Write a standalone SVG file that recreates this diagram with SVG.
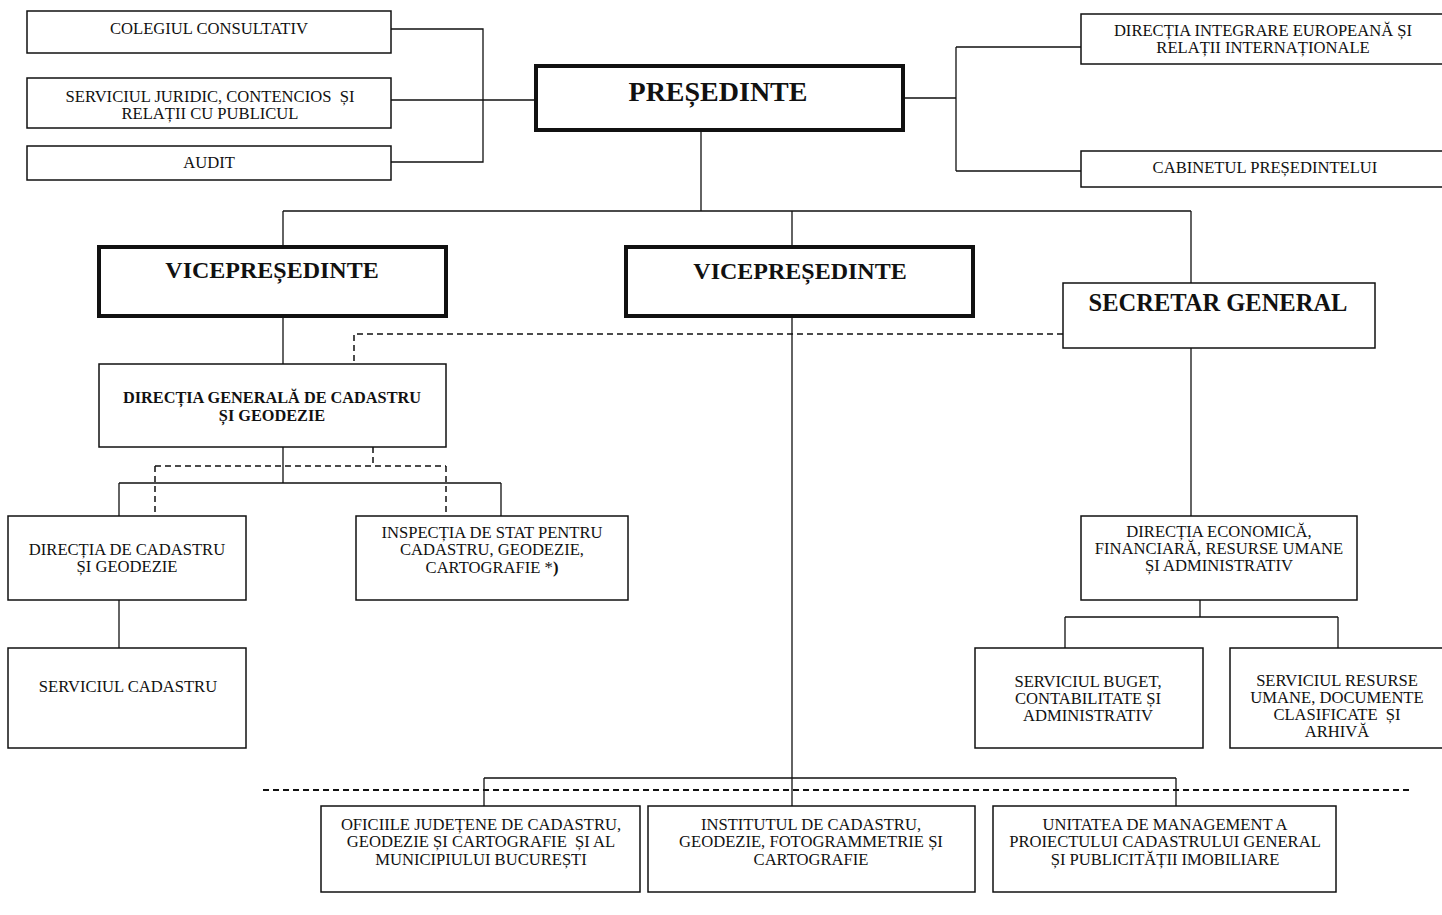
<svg xmlns="http://www.w3.org/2000/svg" width="1442" height="915" viewBox="0 0 1442 915">
<style>
.box{fill:#fff;stroke:#111;stroke-width:1.5}
.thick{fill:#fff;stroke:#111;stroke-width:4}
.t{font-family:"Liberation Serif","Times New Roman",serif;font-size:16.6px;fill:#111;text-anchor:middle;white-space:pre}
.tb{font-family:"Liberation Serif","Times New Roman",serif;font-weight:bold;fill:#111;text-anchor:middle}
.c{fill:none;stroke:#111;stroke-width:1.3}
.d{fill:none;stroke:#111;stroke-width:1.5;stroke-dasharray:6 4}
.d2{fill:none;stroke:#111;stroke-width:2.2;stroke-dasharray:6 4}
</style>
<rect width="1442" height="915" fill="#fff"/>
<g id="connectors">
<path class="c" d="M391 29H483V162H391M391 100H536"/>
<path class="c" d="M903 98H956M956 47V171M956 47H1081M956 171H1081"/>
<path class="c" d="M701 130V211M283 211H1191M283 211V247M792 211V247M1191 211V283"/>
<path class="c" d="M283 316V364"/>
<path class="c" d="M283 447V483M119 483H501M119 483V516M501 483V516"/>
<path class="c" d="M119 600V648"/>
<path class="c" d="M1191 348V516"/>
<path class="c" d="M1200 600V617M1065 617H1338M1065 617V648M1338 617V648"/>
<path class="c" d="M792 316V806M484 778H1176M484 778V806M1176 778V806"/>
<path class="d" d="M1063 334H354V364"/>
<path class="d" d="M373 447V466M155 466H446M155 466V516M446 466V516"/>
<path class="d2" d="M263 790H1410"/>
</g>
<g id="colegiul"><rect class="box" x="27" y="11" width="364" height="42"/><text class="t" x="209" y="34">COLEGIUL CONSULTATIV</text></g>
<g id="juridic"><rect class="box" x="27" y="78" width="364" height="50"/><text class="t" x="210" y="102">SERVICIUL JURIDIC, CONTENCIOS  ȘI</text><text class="t" x="210" y="119">RELAȚII CU PUBLICUL</text></g>
<g id="audit"><rect class="box" x="27" y="146" width="364" height="34"/><text class="t" x="209" y="168">AUDIT</text></g>
<g id="presedinte"><rect class="thick" x="536" y="66" width="367" height="64"/><text class="tb" x="718" y="101" font-size="28">PREȘEDINTE</text></g>
<g id="integrare"><rect class="box" x="1081" y="14" width="362" height="50"/><text class="t" x="1263" y="36">DIRECȚIA INTEGRARE EUROPEANĂ ȘI</text><text class="t" x="1263" y="53">RELAȚII INTERNAȚIONALE</text></g>
<g id="cabinet"><rect class="box" x="1081" y="151" width="362" height="36"/><text class="t" x="1265" y="173">CABINETUL PREȘEDINTELUI</text></g>
<g id="vp1"><rect class="thick" x="99" y="247" width="347" height="69"/><text class="tb" x="272" y="278" font-size="24">VICEPREȘEDINTE</text></g>
<g id="vp2"><rect class="thick" x="626" y="247" width="347" height="69"/><text class="tb" x="800" y="279" font-size="24">VICEPREȘEDINTE</text></g>
<g id="secretar"><rect class="box" x="1063" y="283" width="312" height="65"/><text class="tb" x="1218" y="311" font-size="24.5">SECRETAR GENERAL</text></g>
<g id="dgcg"><rect class="box" x="99" y="364" width="347" height="83"/><text class="tb" x="272" y="403" font-size="16.3">DIRECȚIA GENERALĂ DE CADASTRU</text><text class="tb" x="272" y="421" font-size="16.3">ȘI GEODEZIE</text></g>
<g id="dcg"><rect class="box" x="8" y="516" width="238" height="84"/><text class="t" x="127" y="555">DIRECȚIA DE CADASTRU</text><text class="t" x="127" y="572">ȘI GEODEZIE</text></g>
<g id="inspectia"><rect class="box" x="356" y="516" width="272" height="84"/><text class="t" x="492" y="538">INSPECȚIA DE STAT PENTRU</text><text class="t" x="492" y="555">CADASTRU, GEODEZIE,</text><text class="t" x="492" y="573">CARTOGRAFIE *<tspan font-weight="bold">)</tspan></text></g>
<g id="sc"><rect class="box" x="8" y="648" width="238" height="100"/><text class="t" x="128" y="692">SERVICIUL CADASTRU</text></g>
<g id="economica"><rect class="box" x="1081" y="516" width="276" height="84"/><text class="t" x="1219" y="537">DIRECȚIA ECONOMICĂ,</text><text class="t" x="1219" y="554">FINANCIARĂ, RESURSE UMANE</text><text class="t" x="1219" y="571">ȘI ADMINISTRATIV</text></g>
<g id="buget"><rect class="box" x="975" y="648" width="228" height="100"/><text class="t" x="1088" y="687">SERVICIUL BUGET,</text><text class="t" x="1088" y="704">CONTABILITATE ȘI</text><text class="t" x="1088" y="721">ADMINISTRATIV</text></g>
<g id="resurse"><rect class="box" x="1230" y="648" width="213" height="100"/><text class="t" x="1337" y="686">SERVICIUL RESURSE</text><text class="t" x="1337" y="703">UMANE, DOCUMENTE</text><text class="t" x="1337" y="720">CLASIFICATE  ȘI</text><text class="t" x="1337" y="737">ARHIVĂ</text></g>
<g id="oficiile"><rect class="box" x="321" y="806" width="319" height="86"/><text class="t" x="481" y="830">OFICIILE JUDEȚENE DE CADASTRU,</text><text class="t" x="481" y="847">GEODEZIE ȘI CARTOGRAFIE  ȘI AL</text><text class="t" x="481" y="865">MUNICIPIULUI BUCUREȘTI</text></g>
<g id="institutul"><rect class="box" x="648" y="806" width="327" height="86"/><text class="t" x="811" y="830">INSTITUTUL DE CADASTRU,</text><text class="t" x="811" y="847">GEODEZIE, FOTOGRAMMETRIE ȘI</text><text class="t" x="811" y="865">CARTOGRAFIE</text></g>
<g id="unitatea"><rect class="box" x="993" y="806" width="343" height="86"/><text class="t" x="1165" y="830">UNITATEA DE MANAGEMENT A</text><text class="t" x="1165" y="847">PROIECTULUI CADASTRULUI GENERAL</text><text class="t" x="1165" y="865">ȘI PUBLICITĂȚII IMOBILIARE</text></g>
</svg>
